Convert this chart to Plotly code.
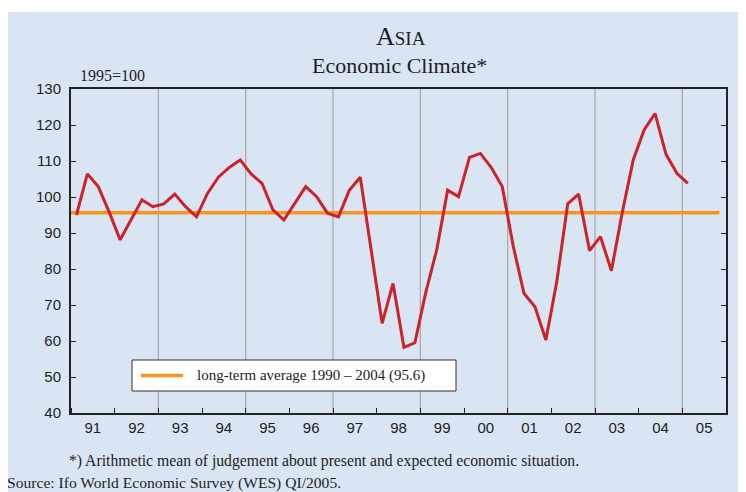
import plotly.graph_objects as go

# quarterly index values, 1991 Q1 .. 2005 Q1
climate = [
    95.0, 106.4, 102.9, 95.8,     # 1991
    88.1, 93.7, 99.2, 97.3,       # 1992
    98.1, 100.8, 97.3, 94.5,      # 1993
    101.0, 105.5, 108.2, 110.3,   # 1994
    106.4, 103.8, 96.4, 93.6,     # 1995
    98.2, 102.9, 100.1, 95.5,     # 1996
    94.5, 101.9, 105.5, 85.0,     # 1997
    64.9, 76.0, 58.2, 59.5,       # 1998
    73.5, 85.3, 101.9, 100.1,     # 1999
    111.0, 112.1, 108.2, 102.9,   # 2000
    86.5, 73.2, 69.5, 60.3,       # 2001
    76.5, 98.1, 100.8, 85.1,      # 2002
    89.0, 79.5, 95.7, 110.3,      # 2003
    118.6, 123.2, 111.9, 106.6,   # 2004
    103.8,                        # 2005
]
long_term_avg = 95.6
avg_span = [1991.0, 2005.85]

year_labels = ["91", "92", "93", "94", "95", "96", "97", "98",
               "99", "00", "01", "02", "03", "04", "05"]
years = list(range(1991, 2006))
grid_years = [1993, 1995, 1997, 1999, 2001, 2003, 2005]

quarter_x = [1991 + (i + 0.5) / 4 for i in range(len(climate))]

RED = "#cc2229"
ORANGE = "#f7941d"
BG = "#dae5f4"
INK = "#1e1e1e"
SERIF = "Liberation Serif, Times New Roman, serif"
SANS = "Liberation Sans, Arial, sans-serif"

# plot area in page pixels: x 71..726, y 89..413
PX0, PY0, PW, PH = 71, 89, 655, 324


def px(x):
    return (x - PX0) / PW


def py(y):
    return 1 - (y - PY0) / PH


fig = go.Figure()

fig.add_trace(go.Scatter(
    x=avg_span,
    y=[long_term_avg, long_term_avg],
    mode="lines",
    line=dict(color=ORANGE, width=3.5),
    hoverinfo="skip",
))
fig.add_trace(go.Scatter(
    x=quarter_x,
    y=climate,
    mode="lines",
    line=dict(color=RED, width=3),
))

# light-blue background below a thin white strip
fig.add_shape(type="rect", xref="paper", yref="paper", x0=-0.2, x1=1.2,
              y0=-0.3, y1=py(12), fillcolor=BG, line_width=0, layer="below")

for gx in grid_years:
    fig.add_shape(type="line", xref="x", yref="paper", x0=gx, x1=gx,
                  y0=0, y1=1, line=dict(color="#a6a6a6", width=1.2),
                  layer="below")

# legend box drawn by hand
fig.add_shape(type="rect", xref="paper", yref="paper",
              x0=px(132), x1=px(456), y0=py(391), y1=py(360),
              fillcolor="white", line=dict(color="#333333", width=1))
fig.add_shape(type="line", xref="paper", yref="paper",
              x0=px(141), x1=px(183), y0=py(375.5), y1=py(375.5),
              line=dict(color=ORANGE, width=3.5))
fig.add_annotation(
    text="long-term average 1990 \u2013 2004 (95.6)",
    xref="paper", yref="paper", x=px(195), y=py(375.5),
    xanchor="left", yanchor="middle", showarrow=False,
    font=dict(family=SERIF, size=15, color=INK),
)

# the page body adds an 8px margin, so the figure is 8px smaller
fig.update_layout(
    width=738,
    height=484,
    margin=dict(l=63, r=20, t=81, b=79),
    paper_bgcolor="white",
    plot_bgcolor="white",
    showlegend=False,
    xaxis=dict(
        range=[1991, 2006],
        tickvals=[y + 0.5 for y in years],
        ticktext=year_labels,
        ticks="",
        showgrid=False,
        zeroline=False,
        showline=True,
        linecolor="#222222",
        linewidth=2,
        mirror=True,
        tickfont=dict(family=SANS, size=15, color=INK),
        minor=dict(tickvals=years, ticks="inside", ticklen=5,
                   tickcolor="#222222", tickwidth=1, showgrid=False),
    ),
    yaxis=dict(
        range=[40, 130],
        dtick=10,
        ticks="inside",
        ticklen=5,
        tickcolor="#222222",
        showgrid=False,
        zeroline=False,
        showline=True,
        linecolor="#222222",
        linewidth=2,
        mirror="ticks",
        ticklabelstandoff=5,
        tickfont=dict(family=SANS, size=15, color=INK),
    ),
)

texts = [
    ("A<span style='font-size:19px'>SIA</span>", 401, 37, 26, "center"),
    ("Economic Climate*", 399, 66, 22, "center"),
    ("1995=100", 78, 75, 16, "left"),
    ("*) Arithmetic mean of judgement about present and expected "
     "economic situation.", 67, 461, 15.7, "left"),
    ("Source: Ifo World Economic Survey (WES) QI/2005.", 5, 483, 15.6, "left"),
]
for text, x, y, size, anchor in texts:
    fig.add_annotation(
        text=text, xref="paper", yref="paper", x=px(x), y=py(y),
        xanchor=anchor, yanchor="middle", showarrow=False,
        font=dict(family=SERIF, size=size, color=INK),
    )

fig.write_html("out.html")
